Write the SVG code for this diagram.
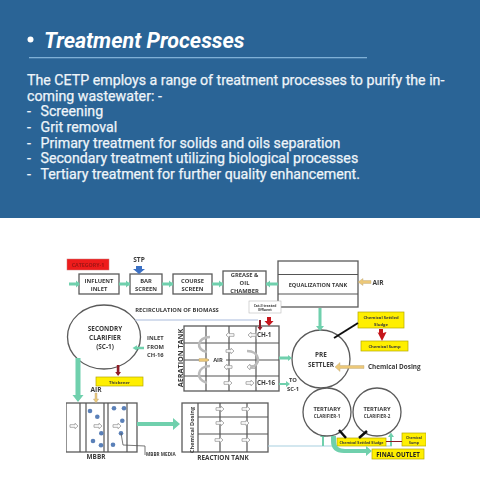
<svg xmlns="http://www.w3.org/2000/svg" width="480" height="480" viewBox="0 0 480 480">
<style>
.h{font-family:Roboto,"Liberation Sans",sans-serif;fill:#eef4f9}
.b{font-size:14.200px;font-weight:400;stroke:#eef4f9;stroke-width:.25}
.t{font-family:"Open Sans","Liberation Sans",sans-serif;font-weight:700;fill:#3a3a3a;text-anchor:middle}
.s7{font-size:6.600px}.s6{font-size:5.800px}.s5{font-size:4.200px}.s65{font-size:6.400px}
.box{fill:#fff;stroke:#5a5a5a;stroke-width:1.300}
.ln{fill:none;stroke:#555;stroke-width:1.200}
.ye{fill:#ffef00;stroke:#b5a800;stroke-width:.7}
.teal{fill:#6fd0ad}
.gold{fill:#ecc878;stroke:#b9a57a;stroke-width:.4}
.red{fill:#c5161d}.dred{fill:#8e1a26}
.oa{fill:#fff;stroke:#999;stroke-width:.8}
.u{fill:none;stroke:#bbb;stroke-width:2.600}
.dot{fill:#5a80b8}
</style>
<defs>
<filter id="soft" x="0" y="0" width="1" height="1"><feGaussianBlur stdDeviation="0.4"/></filter>
<path id="ar" d="M-4-1.300H1V-2.800L4 0 1 2.800V1.300H-4Z" class="oa"/>
<path id="al" d="M4-1.300H-1V-2.800L-4 0-1 2.800V1.300H4Z" class="oa"/>
</defs>
<g id="header">
<rect width="480" height="218" fill="#2a6496"/>
<circle cx="30.500" cy="39.500" r="3" fill="#fff"/>
<text x="44" y="47.500" class="h" font-size="21.500" font-weight="700" font-style="italic" style="fill:#fff">Treatment Processes</text>
<rect x="29" y="57" width="338" height="1.300" fill="#7fb0d6"/>
<text x="27" y="85" class="h b">The CETP employs a range of treatment processes to purify the in-</text>
<text x="27" y="100.800" class="h b">coming wastewater: -</text>
<text x="27" y="116.300" class="h b">-</text><text x="40.500" y="116.300" class="h b">Screening</text>
<text x="27" y="132" class="h b">-</text><text x="40.500" y="132" class="h b">Grit removal</text>
<text x="27" y="147.500" class="h b">-</text><text x="40.500" y="147.500" class="h b">Primary treatment for solids and oils separation</text>
<text x="27" y="163" class="h b">-</text><text x="40.500" y="163" class="h b">Secondary treatment utilizing biological processes</text>
<text x="27" y="178.800" class="h b">-</text><text x="40.500" y="178.800" class="h b">Tertiary treatment for further quality enhancement.</text>
</g>
<g filter="url(#soft)">
<g id="category"><rect x="67" y="259" width="42" height="11" fill="#ee1c1c" stroke="#c77" stroke-width=".5"/><text x="88" y="266.500" class="t" font-size="5.300" style="fill:#a01616">CATEGORY-1</text></g>
<g id="stp"><text x="139" y="262" class="t s7">STP</text></g>
<g id="influent"><rect x="79" y="274" width="40" height="20" class="box"/><text x="99" y="282.500" class="t s6">INFLUENT</text><text x="99" y="290.500" class="t s6">INLET</text></g>
<g id="bar"><rect x="130" y="274" width="32" height="20" class="box"/><text x="146" y="282.500" class="t s6">BAR</text><text x="146" y="290.500" class="t s6">SCREEN</text></g>
<g id="course"><rect x="173" y="274" width="39" height="20" class="box"/><text x="192.500" y="282.500" class="t s6">COURSE</text><text x="192.500" y="290.500" class="t s6">SCREEN</text></g>
<g id="grease"><rect x="223" y="271" width="43" height="23" class="box"/><text x="244.500" y="276.500" class="t s6">GREASE &amp;</text><text x="244.500" y="284.500" class="t s6">OIL</text><text x="244.500" y="292.500" class="t s6">CHAMBER</text></g>
<g id="equalization"><rect x="278" y="261" width="80" height="46" class="box"/><path d="M278 274.500H358M278 294H358" class="ln"/><text x="318" y="287" class="t" font-size="5.600">EQUALIZATION TANK</text><text x="378" y="284.500" class="t s7">AIR</text></g>
<g id="cat2"><rect x="249" y="301" width="32" height="12" fill="#fff" stroke="#bbb" stroke-width=".6"/><text x="265" y="306.500" class="t" font-size="3.400">Cat-II treated</text><text x="265" y="311" class="t" font-size="3.400">Effluent</text></g>
<g id="recirculation"><text x="177" y="311.500" class="t s6">RECIRCULATION OF BIOMASS</text></g>
<g id="sludge"><rect x="358" y="312" width="46" height="16" class="ye"/><text x="381" y="319" class="t s5">Chemical Settled</text><text x="381" y="325.500" class="t s5">Sludge</text></g>
<g id="sump"><rect x="361" y="341" width="47" height="10" class="ye"/><text x="384.500" y="347.500" class="t s5">Chemical Sump</text></g>
<g id="secondary"><ellipse cx="104" cy="337" rx="36.500" ry="32" class="box"/><text x="105" y="330.500" class="t s65">SECONDRY</text><text x="105" y="339.500" class="t s65">CLARIFIER</text><text x="105" y="348.500" class="t s65">(SC-1)</text></g>
<g id="inlet"><text x="147" y="340" class="t s6" style="text-anchor:start">INLET</text><text x="147" y="348.500" class="t s6" style="text-anchor:start">FROM</text><text x="147" y="357" class="t s6" style="text-anchor:start">CH-16</text></g>
<g id="thickener"><rect x="96" y="377" width="47" height="9" class="ye"/><text x="119.500" y="383.500" class="t s5">Thickener</text></g>
<g id="air-mbbr"><text x="96" y="391.500" class="t s7">AIR</text></g>
<g id="aeration">
<rect x="184" y="326" width="95" height="65" class="box"/>
<path d="M184 343H279M184 360H279M184 376H279M206 326V391M229 326V391M256 326V391" class="ln"/>
<text transform="translate(183 358) rotate(-90)" class="t" font-size="7.200">AERATION TANK</text>
<use href="#al" x="230" y="335"/><use href="#al" x="252" y="335"/><use href="#ar" x="230" y="351"/><use href="#al" x="228" y="367"/><use href="#al" x="251" y="367"/><use href="#ar" x="228" y="383"/><use href="#ar" x="250" y="383"/>
<path d="M210 337c-13 0-15 13-3 15M210 366c-13 0-15 14-3 17M247 351c13 0 15 14 3 17" class="u"/>
<path d="M199 358.500h8l2 1.500-2 1.500h-8Z" class="gold"/>
<rect x="209" y="357" width="17" height="6" fill="#fff"/>
<text x="218" y="362" class="t s6">AIR</text>
<rect x="256.700" y="331" width="20" height="8" fill="#fff"/>
<rect x="256.700" y="379" width="21" height="8" fill="#fff"/>
<text x="257" y="337" class="t" font-size="6.300" style="text-anchor:start">CH-1</text>
<text x="257" y="385" class="t" font-size="6.300" style="text-anchor:start">CH-16</text>
</g>
<g id="presettler"><circle cx="321" cy="359" r="29" class="box"/><text x="321" y="357" class="t s65">PRE</text><text x="321" y="367" class="t s65">SETTLER</text></g>
<g id="tosc"><text x="293" y="381.500" class="t s6">TO</text><text x="293" y="390.500" class="t s6">SC-1</text></g>
<g id="dosing"><text x="368" y="369" class="t" font-size="6.400" style="text-anchor:start">Chemical Dosing</text></g>
<g id="mbbr">
<rect x="66" y="403" width="71" height="49" class="box"/>
<path d="M80 403V452M86 403V452M104 403V452M108 403V452M127 403V452" class="ln"/>
<use href="#ar" x="74" y="426"/><use href="#ar" x="98" y="426"/><use href="#ar" x="117" y="426"/>
<circle cx="90" cy="411" r="2.300" class="dot"/><circle cx="97.300" cy="416.700" r="2.300" class="dot"/><circle cx="114" cy="408.300" r="2.300" class="dot"/><circle cx="124" cy="408.300" r="2.300" class="dot"/><circle cx="122.300" cy="420.700" r="2.300" class="dot"/><circle cx="101.300" cy="433.300" r="2.300" class="dot"/><circle cx="121" cy="433.300" r="2.300" class="dot"/><circle cx="93" cy="441" r="2.300" class="dot"/><circle cx="101" cy="445.300" r="2.300" class="dot"/><circle cx="113" cy="444.700" r="2.300" class="dot"/>
<text x="96" y="459" class="t s65">MBBR</text>
<text x="146" y="456" class="t" font-size="4.600" style="text-anchor:start">MBBR MEDIA</text>
</g>
<g id="reaction">
<rect x="182" y="403" width="86" height="49" class="box"/>
<path d="M198 403V452M198 417H268M198 434H268M220 403V452M247 403V452" class="ln"/>
<text transform="translate(193.500 430) rotate(-90)" class="t" font-size="5.600">Chemical Dosing</text>
<use href="#ar" x="220" y="409"/><use href="#ar" x="246" y="409"/><use href="#ar" x="220" y="423"/><use href="#ar" x="245" y="423"/><use href="#ar" x="219" y="440"/><use href="#ar" x="246" y="440"/>
<text x="223" y="459.500" class="t s65">REACTION TANK</text>
</g>
<g id="connectors">
<path d="M69 284h10M119 284h11M162 284h11M212 284h11M266 284h12" stroke="#6fd0ad" stroke-width="3" fill="none"/>
<path d="M76 280.500l4 3.500-4 3.500ZM126 280.500l4 3.500-4 3.500ZM169 280.500l4 3.500-4 3.500ZM219 280.500l4 3.500-4 3.500ZM270 280.500l-4 3.500 4 3.500Z" class="teal"/>
<path d="M136 266h6v3h3l-6 5-6-5h3Z" fill="#3a6fc4"/>
<path d="M371 280.500h-8v-2l-5 3.500 5 3.500v-2h8Z" class="gold"/>
<path d="M318.500 308h3v18h2.500l-4 5-4-5h2.500Z" class="teal"/>
<path d="M135 320H258" stroke="#a9bbdc" stroke-width="1" fill="none"/>
<path d="M259 320h2v7h1.500l-2.500 3.500-2.500-3.500h1.500Z" class="dred"/>
<path d="M267 317h4v4h2.500l-4.500 5-4.500-5h2.500Z" class="red"/>
<path d="M334 338L358 323" stroke="#111" stroke-width="2"/>
<path d="M379 329h4v4l3.500-1-4.500 9-4.500-9 1.500 1Z" class="red"/>
<path d="M144 346.800h-7v-1.500l-4.500 2.700 4.500 2.700v-1.500h7Z" class="teal"/>
<path d="M75.500 358h5v37h3l-5.500 7-5.500-7h3Z" class="teal"/>
<path d="M116.800 365h2.600v7h1.600l-2.900 4-2.900-4h1.600Z" class="dred"/>
<path d="M95 393h2v6h1.600l-2.600 4-2.600-4h1.600Z" class="gold"/>
<path d="M137 422h36v-4l7 6-7 6v-4h-36Z" class="teal"/>
<path d="M279 356.500h9v-1.500l4 3-4 3v-1.500h-9Z" class="teal"/>
<path d="M279 383h7v-2l4 3-4 3v-2h-7Z" class="teal"/>
<path d="M364 365.500h-24v-3l-5 4.500 5 4.500v-3h24Z" class="gold"/>
<path d="M268 446H337M386 446H392" stroke="#a8cfe0" stroke-width="1.200" fill="none"/>
<path d="M322 446v-9h-2l3-4.500 3 4.500h-2v9ZM390 446v-9h-2l3-4.500 3 4.500h-2v9Z" class="teal"/>
<path d="M121 433l2 12 22 1v9" fill="none" stroke="#555" stroke-width=".8"/>
</g>
<g id="tertiary1"><circle cx="327" cy="412" r="24" class="box"/><text x="327" y="411" class="t" font-size="5.800">TERTIARY</text><text x="327" y="418" class="t" font-size="4.500">CLARIFIER-1</text></g>
<g id="tertiary2"><circle cx="377" cy="412" r="24" class="box"/><text x="377" y="411" class="t" font-size="5.800">TERTIARY</text><text x="377" y="418" class="t" font-size="4.500">CLARIFIER-2</text></g>
<g id="settled2"><rect x="337" y="438" width="49" height="8" class="ye"/><text x="361.500" y="443.500" class="t" font-size="3.700">Chemical Settled Sludge</text></g>
<g id="sump2"><rect x="402" y="433" width="24" height="13" class="ye"/><text x="414" y="438.500" class="t" font-size="3.500">Chemical</text><text x="414" y="443.500" class="t" font-size="3.500">Sump</text></g>
<g id="final"><rect x="372" y="449" width="52" height="10" class="ye"/><text x="398" y="456.500" class="t" font-size="6.200" style="fill:#222">FINAL OUTLET</text></g>
<g id="connectors-top">
<path d="M331 436h5v6q0 7 9 7h21v-3l6 5-6 5v-3h-22q-13 0-13-12Z" class="teal"/>
<path d="M339 430l7 8M367 431l-8 7" stroke="#111" stroke-width="2.500"/>
<path d="M386 441.500H402" stroke="#8e1a26" stroke-width="1"/>
</g>
</g>
</svg>
